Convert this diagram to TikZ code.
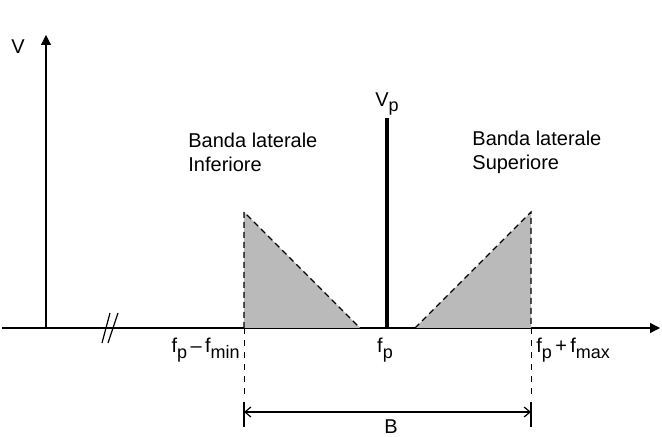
\documentclass[tikz,border=0pt]{standalone}
\usepackage{fontspec}
\setmainfont{Liberation Sans}
\usetikzlibrary{arrows.meta}

\newcommand{\lowidx}[1]{\raisebox{-0.55ex}{\small #1}}

\begin{document}
\begin{tikzpicture}[
  x=0.5pt, y=-0.5pt,
  axis/.style={-{Triangle[length=5pt,width=5pt]}, line width=0.6pt},
  band/.style={fill=black!27, draw=none},
  edge/.style={dash pattern=on 3pt off 2pt, line width=0.6pt},
  guide/.style={dash pattern=on 3pt off 3pt, line width=0.5pt},
  lbl/.style={inner sep=1pt, font=\normalsize},
  txt/.style={align=left, inner sep=0pt, font=\normalsize}
]
\useasboundingbox (0,0) rectangle (662,437);

% axes
\coordinate (o)  at (46,328);
\coordinate (vt) at (46,35);
\coordinate (xl) at (2,328);
\coordinate (xr) at (660,328);
\draw[axis] (o) -- (vt);
\draw[axis] (xl) -- (xr);
\node[lbl] (v) at (18,47) {V};

% axis break
\draw[line width=0.6pt] (102,343) -- (110,313);
\draw[line width=0.6pt] (108,343) -- (118,313);

% lower band
\coordinate (lt) at (244,212);
\coordinate (lb) at (244,328);
\coordinate (lr) at (360,328);
\fill[band] (lt) -- (lb) -- (lr) -- cycle;
\draw[edge] (lb) -- (lt) -- (lr);

% upper band
\coordinate (ul) at (415,328);
\coordinate (ut) at (531,212);
\coordinate (ub) at (531,328);
\fill[band] (ul) -- (ut) -- (ub) -- cycle;
\draw[edge] (ul) -- (ut) -- (ub);

% carrier
\coordinate (ct) at (387,118);
\coordinate (cb) at (387,328);
\draw[line width=2pt] (cb) -- (ct);
\node[lbl, above] (vp) at (ct) {V\lowidx{p}};

% labels of the bands
\node[txt, anchor=west] (inf) at (188,152) {Banda laterale\\Inferiore};
\node[txt, anchor=west] (sup) at (472,152) {Banda laterale\\Superiore};

% frequencies
\node[lbl, anchor=east] (fmin) at (242,350) {f\lowidx{p}\,--\,f\lowidx{min}};
\node[lbl] (fp) at (385,350) {f\lowidx{p}};
\node[lbl, anchor=west] (fmax) at (534,350) {f\lowidx{p}\,+\,f\lowidx{max}};

% bandwidth
\coordinate (gl) at (244,400);
\coordinate (gr) at (531,400);
\draw[guide] (lb) -- (gl);
\draw[guide] (ub) -- (gr);
\coordinate (bl) at (244,412);
\coordinate (br) at (531,412);
\draw[line width=0.6pt] (244,402) -- (244,427);
\draw[line width=0.6pt] (531,402) -- (531,427);
\draw[{Straight Barb[length=3pt,width=5pt]}-{Straight Barb[length=3pt,width=5pt]}, line width=0.6pt] (bl) -- (br);
\node[lbl] (b) at (391,427) {B};
\end{tikzpicture}
\end{document}
